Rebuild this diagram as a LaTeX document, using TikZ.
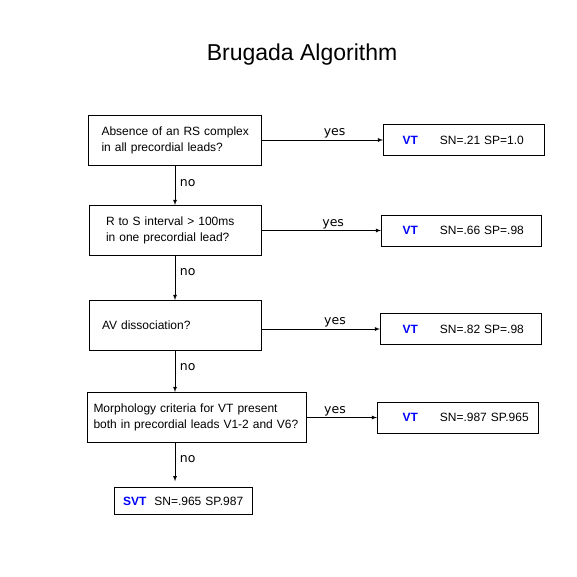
\documentclass[tikz,border=0pt]{standalone}
\usepackage{fontspec}
\setmainfont{Liberation Sans}
\newfontfamily\answerfont{DejaVu Sans}
\usetikzlibrary{positioning}
\definecolor{vtblue}{RGB}{0,0,255}
\newcommand{\vtmark}[1]{\mbox{{\color{vtblue}\bfseries VT}\hspace*{22pt}#1}}
\newcommand{\qline}[1]{\mbox{#1}}
\begin{document}
\begin{tikzpicture}[x=1pt,y=-1pt]
\tikzstyle{arrow} = [line width=0.8pt, color=black, -latex] % standard arrow
\tikzstyle{block} = [draw, line width=1pt, rectangle, minimum height=50pt, align=left, inner ysep=0pt, font=\fontsize{12}{16}\selectfont] % question block
\tikzstyle{result} = [draw, line width=1pt, rectangle, minimum height=31pt, anchor=west, align=left, inner ysep=0pt, font=\fontsize{12}{14}\selectfont] % outcome block
\tikzstyle{answer} = [inner sep=1.5pt, font=\answerfont\fontsize{12.5}{14}\selectfont] % yes / no labels
\fill[white](0,0)rectangle(577,576); % white page
\useasboundingbox(0,0)rectangle(577,576);
\node(title)[anchor=base, font=\fontsize{23}{28}\selectfont] at (302,60){Brugada Algorithm};
% questions
\node(absence)[block, text width=147pt, inner xsep=13pt] at (175,140){\qline{Absence of an RS complex}\\\qline{in all precordial leads?}};
\node(interval)[block, text width=138pt, inner xsep=17pt] at (175,230.5){\qline{R to S interval > 100ms}\\\qline{in one precordial lead?}};
\node(avdiss)[block, text width=146pt, inner xsep=13pt] at (175,325.5){\qline{AV dissociation?}\\[2pt]};
\node(morph)[block, text width=207pt, inner xsep=6pt] at (197,417.5){\qline{Morphology criteria for VT present}\\\qline{both in precordial leads V1-2 and V6?}};
% outcomes
\node(vtone)[result, text width=123pt, inner xsep=19pt] at (383,140){\vtmark{SN=.21 SP=1.0}};
\node(vttwo)[result, text width=118pt, inner xsep=21pt] at (381,230.5){\vtmark{SN=.66 SP=.98}};
\node(vtthree)[result, text width=117pt, inner xsep=22pt] at (380,329){\vtmark{SN=.82 SP=.98}};
\node(vtfour)[result, text width=111pt, inner xsep=25pt] at (377,417.5){\vtmark{SN=.987 SP.965}};
\node(svt)[result, minimum height=26.5pt, text width=121pt, inner xsep=8.5pt] at (114,501){\mbox{{\color{vtblue}\bfseries SVT}\hspace*{8pt}SN=.965 SP.987}};
% yes branches
\draw[arrow](absence.east)--(vtone.west)node[answer, above, pos=0.6]{yes};
\draw[arrow](interval.east)--(vttwo.west)node[answer, above, pos=0.6]{yes};
\draw[arrow](avdiss.east|-vtthree.west)--(vtthree.west)node[answer, above, pos=0.62]{yes};
\draw[arrow](morph.east)--(vtfour.west)node[answer, above, pos=0.4]{yes};
% no branches
\draw[arrow](absence.south)--(interval.north)node[answer, right=3pt, pos=0.44]{no};
\draw[arrow](interval.south)--(avdiss.north)node[answer, right=3pt, pos=0.36]{no};
\draw[arrow](avdiss.south)--(avdiss.south|-morph.north)node[answer, right=3pt, pos=0.4]{no};
\draw[arrow, shorten >=6pt](morph.south-|avdiss.south)--(svt.north-|avdiss.south)node[answer, right=3pt, pos=0.37]{no};
\end{tikzpicture}
\end{document}
